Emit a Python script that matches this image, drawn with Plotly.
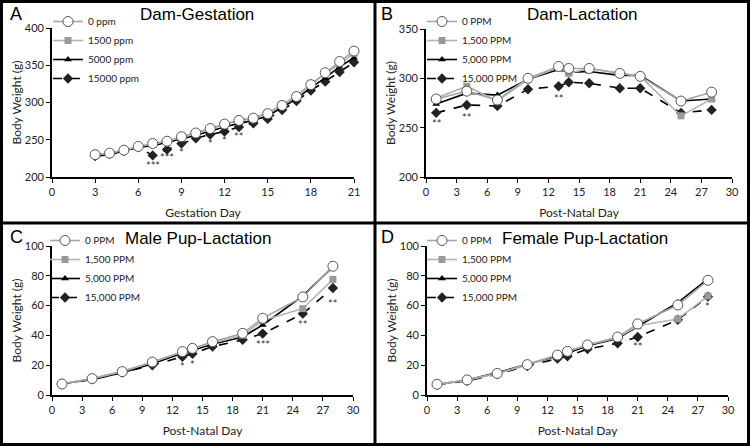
import plotly.graph_objects as go

# ---------------- data ----------------
gest_days = [3, 4, 5, 6, 7, 8, 9, 10, 11, 12, 13, 14, 15, 16, 17, 18, 19, 20, 21]
a_0 = [230, 232, 236, 241, 245, 248, 254, 259, 265, 271, 276, 279, 285, 296, 308, 324, 340, 355, 369]
a_1500 = [229, 232, 236, 241, 244, 248, 253, 259, 265, 270, 276, 279, 286, 297, 309, 325, 338, 352, 366]
a_5000 = [228, 230, 235, 240, 242, 246, 251, 256, 262, 267, 272, 276, 282, 293, 305, 320, 333, 348, 360]
a_15000 = [228, 231, 235, 240, 229, 237, 245, 252, 257, 261, 267, 272, 278, 290, 302, 316, 328, 341, 354]
a_sig_x = [7, 8, 9, 11, 12, 13]
a_sig_y = [215, 226, 233, 245, 249, 254]
a_sig_t = ["***", "***", "*", "*", "*", "**"]

pnd_days = [1, 4, 7, 10, 13, 14, 16, 19, 21, 25, 28]
b_0 = [279, 287, 278, 300, 312, 310, 310, 305, 302, 277, 286]
b_1500 = [280, 292, 277, 299, 311, 305, 310, 305, 302, 262, 279]
b_5000 = [274, 285, 283, 299, 309, 306, 307, 303, 303, 277, 279]
b_15000 = [265, 273, 272, 289, 292, 296, 295, 290, 290, 265, 268]
b_sig_x = [1, 4, 13]
b_sig_y = [254, 260, 280]
b_sig_t = ["**", "**", "**"]

c_0 = [7.4, 11, 15.7, 22.1, 29.1, 31.3, 35.8, 41.4, 51.5, 65.8, 86.4]
c_1500 = [7.5, 11, 16, 22, 29, 31, 35, 40, 50, 58, 77.6]
c_5000 = [7.5, 10.5, 15, 21, 28, 30, 34, 39, 47, 66.5, 86]
c_15000 = [7.5, 10.5, 15, 20, 25.7, 27.7, 32.5, 37, 41.2, 54.6, 71.8]
c_sig_x = [13, 14, 21, 25, 28]
c_sig_y = [19, 20.6, 33.6, 47, 61.5]
c_sig_t = ["*", "*", "***", "**", "**"]

d_0 = [7.2, 10.1, 14.5, 20.4, 26.8, 29.3, 33.6, 38.9, 47.7, 60.4, 77]
d_1500 = [7, 10, 14.5, 20, 27, 29, 33.5, 38.5, 46.5, 51, 66.4]
d_5000 = [7, 10, 15, 20.5, 26, 28, 33, 38, 46, 62, 78]
d_15000 = [7, 9.5, 14, 19.5, 24.4, 26, 30.8, 34.7, 38.9, 50.5, 66]
d_sig_x = [21, 28]
d_sig_y = [32.4, 59.7]
d_sig_t = ["**", "*"]

labels_a = ["0 ppm", "1500 ppm", "5000 ppm", "15000 ppm"]
labels_b = ["0 PPM", "1,500 PPM", "5,000 PPM", "15,000 PPM"]

panel_titles = ["Dam-Gestation", "Dam-Lactation", "Male Pup-Lactation", "Female Pup-Lactation"]
panel_letters = ["A", "B", "C", "D"]
x_titles = ["Gestation Day", "Post-Natal Day", "Post-Natal Day", "Post-Natal Day"]

# ---------------- figure ----------------
W, H = 750, 446
FONT = "Lato"

def px(x):
    return x / W

def py(y):
    return 1 - y / H

fig = go.Figure()

styles = [
    dict(line=dict(color="#a8a8a8", width=1.6),
         marker=dict(symbol="circle", size=10, color="white", line=dict(color="#555555", width=1))),
    dict(line=dict(color="#b4b4b4", width=1.6),
         marker=dict(symbol="square", size=7, color="#999999", line=dict(width=0))),
    dict(line=dict(color="black", width=1.6),
         marker=dict(symbol="triangle-up", size=7, color="black", line=dict(width=0))),
    dict(line=dict(color="black", width=1.6, dash="dash"),
         marker=dict(symbol="diamond", size=8, color="#222222", line=dict(width=0))),
]

panels = [
    (gest_days, [a_0, a_1500, a_5000, a_15000], labels_a, (a_sig_x, a_sig_y, a_sig_t)),
    (pnd_days, [b_0, b_1500, b_5000, b_15000], labels_b, (b_sig_x, b_sig_y, b_sig_t)),
    (pnd_days, [c_0, c_1500, c_5000, c_15000], labels_b, (c_sig_x, c_sig_y, c_sig_t)),
    (pnd_days, [d_0, d_1500, d_5000, d_15000], labels_b, (d_sig_x, d_sig_y, d_sig_t)),
]

# axis pixel layouts: (x_left, x_right, y_top, y_bottom)
axis_px = [
    (52, 354, 28, 177),
    (426, 732, 29, 177),
    (52, 353, 246, 395),
    (427, 728, 246, 395),
]
x_ranges = [[0, 21], [0, 30], [0, 30], [0, 30]]
y_ranges = [[200, 400], [200, 350], [0, 100], [0, 100]]
y_dticks = [50, 50, 20, 20]
legend_pos = [(48, 7), (422, 7), (45, 226), (422, 226)]
title_pos = [(197, 15), (582, 15), (198, 238), (585, 238)]
letter_pos = [(16, 14), (387, 14), (16, 237), (387, 237)]

annotations = []
for i, (xs, series, labels, sig) in enumerate(panels):
    n = "" if i == 0 else str(i + 1)
    xa, ya = "x" + n, "y" + n
    leg = "legend" + n
    # draw order: highest dose first, 0 ppm on top
    for k in [3, 2, 1, 0]:
        fig.add_trace(go.Scatter(
            x=xs, y=series[k], name=labels[k], mode="lines+markers",
            line=styles[k]["line"], marker=styles[k]["marker"],
            xaxis=xa, yaxis=ya, legend=leg, legendrank=k + 1,
            cliponaxis=False, showlegend=True, hoverinfo="skip"))
    for sx, sy, st in zip(*sig):
        annotations.append(dict(x=sx, y=sy, xref=xa, yref=ya, text=st, showarrow=False,
                                font=dict(family=FONT, size=11, color="#333333")))
    xl, xr, yt, yb = axis_px[i]
    axis_common = dict(showline=True, linecolor="black", linewidth=1.6, ticks="outside",
                       ticklen=4, tickwidth=1.4, tickcolor="black", showgrid=False, zeroline=False,
                       automargin=False,
                       tickfont=dict(family=FONT, size=11, color="#222222"))
    fig.layout["xaxis" + n] = dict(domain=[px(xl), px(xr)], range=x_ranges[i], dtick=3, tick0=0,
                                   anchor=ya,
                                   title=dict(text=x_titles[i], font=dict(family=FONT, size=12, color="#222222"),
                                              standoff=12),
                                   **axis_common)
    fig.layout["yaxis" + n] = dict(domain=[py(yb), py(yt)], range=y_ranges[i], dtick=y_dticks[i],
                                   anchor=xa,
                                   title=dict(text="Body Weight (g)", font=dict(family=FONT, size=12, color="#222222"),
                                              standoff=1),
                                   **axis_common)
    lx, ly = legend_pos[i]
    fig.layout[leg] = dict(x=px(lx), y=py(ly), xanchor="left", yanchor="top",
                           bgcolor="rgba(0,0,0,0)", font=dict(family=FONT, size=10, color="#222222"),
                           itemwidth=30, tracegroupgap=0, itemclick=False)
    tx, ty = title_pos[i]
    annotations.append(dict(x=px(tx), y=py(ty), xref="paper", yref="paper", text=panel_titles[i],
                            xanchor="center", yanchor="middle",
                            showarrow=False, font=dict(family="Liberation Sans", size=17, color="black")))
    lx2, ly2 = letter_pos[i]
    annotations.append(dict(x=px(lx2), y=py(ly2), xref="paper", yref="paper", text=panel_letters[i],
                            xanchor="center", yanchor="middle",
                            showarrow=False, font=dict(family="Liberation Sans", size=18, color="black")))

shapes = [
    dict(type="rect", xref="paper", yref="paper", x0=px(1.5), x1=px(748.5), y0=py(444.5), y1=py(1.5),
         line=dict(color="black", width=3)),
    dict(type="line", xref="paper", yref="paper", x0=px(375), x1=px(375), y0=0, y1=1,
         line=dict(color="black", width=3)),
    dict(type="line", xref="paper", yref="paper", x0=0, x1=1, y0=py(223), y1=py(223),
         line=dict(color="black", width=3)),
]

fig.update_layout(width=W, height=H, margin=dict(l=0, r=0, t=0, b=0, autoexpand=False),
                  paper_bgcolor="white", plot_bgcolor="white",
                  annotations=annotations, shapes=shapes, showlegend=True)

fig.write_html("out.html", config={"displayModeBar": False},
               post_script="document.body.style.margin='0';document.body.style.overflow='hidden';")
